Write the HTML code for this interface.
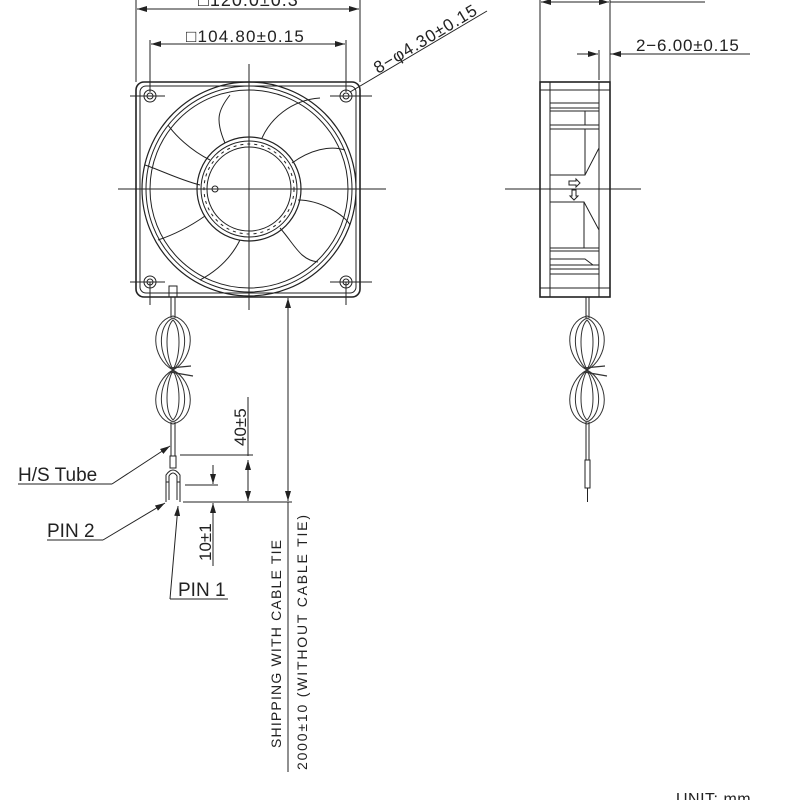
<!DOCTYPE html>
<html><head><meta charset="utf-8"><style>
html,body{margin:0;padding:0;background:#fff;}
svg{display:block}
text{font-family:"Liberation Sans",sans-serif;fill:#222}
</style></head><body>
<svg width="800" height="800" viewBox="0 0 800 800" xmlns="http://www.w3.org/2000/svg">
<defs>
<marker id="a" markerWidth="10" markerHeight="6" refX="10" refY="3" orient="auto-start-reverse" markerUnits="userSpaceOnUse"><path d="M0,0 L10,3 L0,6 z" fill="#222"/></marker>
<g id="loops" fill="none" stroke="#333" stroke-width="1">
<path d="M0,-54 C-24,-48 -22,-12 0,0 C22,-12 24,-48 0,-54 Z"/>
<path d="M0,-52 C-16,-45 -15,-14 0,0 C15,-14 16,-45 0,-52 Z"/>
<path d="M0,-50 C-8,-42 -8,-16 0,0 C8,-16 8,-42 0,-50 Z"/>
<path d="M0,54 C-24,48 -22,12 0,0 C22,12 24,48 0,54 Z"/>
<path d="M0,52 C-16,45 -15,14 0,0 C15,14 16,45 0,52 Z"/>
<path d="M0,50 C-8,42 -8,16 0,0 C8,16 8,42 0,50 Z"/>
<path d="M-3,-2 L18,-4 M-3,2 L20,6" stroke-width="1.2"/>
</g>
</defs>
<g stroke="#222" fill="none" stroke-width="1">
<line x1="136" y1="0" x2="136" y2="82"/><line x1="360" y1="0" x2="360" y2="82"/>
<line x1="137" y1="9" x2="359" y2="9" marker-start="url(#a)" marker-end="url(#a)"/>
<line x1="150" y1="40" x2="150" y2="92"/><line x1="346" y1="40" x2="346" y2="92"/>
<line x1="151" y1="44" x2="345" y2="44" marker-start="url(#a)" marker-end="url(#a)"/>
<line x1="350" y1="92" x2="487" y2="11"/>
<rect x="136" y="82" width="224" height="215" rx="8" stroke-width="1.6"/>
<rect x="140" y="86" width="216" height="207" rx="6"/>
<circle cx="249" cy="189" r="107" stroke-width="1.2"/>
<circle cx="249" cy="189" r="103"/>
<circle cx="249" cy="189" r="99"/>
<circle cx="249" cy="189" r="52" stroke-width="1.2"/>
<circle cx="249" cy="189" r="48"/>
<circle cx="249" cy="189" r="45" stroke-dasharray="3 4"/>
<circle cx="249" cy="189" r="42"/>
<circle cx="215" cy="189" r="3"/>
<circle cx="150" cy="96" r="6"/><circle cx="150" cy="96" r="3"/>
<circle cx="346" cy="96" r="6"/><circle cx="346" cy="96" r="3"/>
<circle cx="150" cy="282" r="6"/><circle cx="150" cy="282" r="3"/>
<circle cx="346" cy="282" r="6"/><circle cx="346" cy="282" r="3"/>
<path d="M225,143 C215,120 218,110 230,95 M262,138 C270,120 290,100 320,98"/>
<path d="M292,163 C310,150 330,145 345,150 M298,200 C320,200 345,215 350,225"/>
<path d="M280,228 C295,245 300,260 318,262 M240,240 C230,260 215,272 200,280"/>
<path d="M205,216 C185,230 170,236 158,240 M200,185 C180,180 160,170 145,165"/>
<path d="M210,160 C190,150 175,135 168,125"/>
<line x1="118" y1="189" x2="386" y2="189"/>
<line x1="249" y1="64" x2="249" y2="310"/>
<line x1="130" y1="96" x2="165" y2="96"/><line x1="330" y1="96" x2="372" y2="96"/>
<line x1="130" y1="282" x2="165" y2="282"/><line x1="330" y1="282" x2="372" y2="282"/>
<line x1="150" y1="282" x2="150" y2="305"/><line x1="346" y1="282" x2="346" y2="305"/>
<rect x="169" y="286" width="8" height="11"/>
<line x1="171" y1="297" x2="171" y2="318"/><line x1="175" y1="297" x2="175" y2="318"/>
<use href="#loops" x="173" y="370"/>
<line x1="171" y1="422" x2="171" y2="456"/><line x1="175" y1="422" x2="175" y2="456"/>
<rect x="170" y="456" width="6" height="12"/>
<path d="M166,502 L166,475 Q173,465 180,475 L180,502"/>
<path d="M169,500 L169,476 Q173,470 177,476 L177,500"/>
<line x1="166" y1="482" x2="169" y2="482"/><line x1="177" y1="482" x2="180" y2="482"/>
<line x1="180" y1="455" x2="253" y2="455"/>
<line x1="183" y1="502" x2="292" y2="502"/>
<line x1="185" y1="485" x2="218" y2="485"/>
<line x1="248" y1="397" x2="248" y2="456" /><line x1="248" y1="460" x2="248" y2="501" marker-start="url(#a)" marker-end="url(#a)"/>
<line x1="213" y1="465" x2="213" y2="484" marker-end="url(#a)"/>
<line x1="213" y1="520" x2="213" y2="503" marker-end="url(#a)"/>
<line x1="213" y1="503" x2="213" y2="566"/>
<line x1="288" y1="298" x2="288" y2="501" marker-start="url(#a)" marker-end="url(#a)"/>
<line x1="288" y1="502" x2="288" y2="772"/>
<line x1="18" y1="484" x2="112" y2="484"/><line x1="112" y1="484" x2="170" y2="446" marker-end="url(#a)"/>
<line x1="47" y1="540" x2="103" y2="540"/><line x1="103" y1="540" x2="165" y2="503" marker-end="url(#a)"/>
<line x1="170" y1="599" x2="228" y2="599"/><line x1="170" y1="599" x2="178" y2="506" marker-end="url(#a)"/>
<line x1="540" y1="0" x2="540" y2="82"/><line x1="610" y1="0" x2="610" y2="82"/>
<line x1="541" y1="2" x2="609" y2="2" marker-start="url(#a)" marker-end="url(#a)"/>
<line x1="610" y1="2" x2="705" y2="2"/>
<line x1="599" y1="50" x2="599" y2="80"/>
<line x1="577" y1="54" x2="598" y2="54" marker-end="url(#a)"/>
<line x1="635" y1="54" x2="611" y2="54" marker-end="url(#a)"/>
<line x1="610" y1="54" x2="750" y2="54"/>
<rect x="540" y="82" width="70" height="215" stroke-width="1.6"/>
<line x1="550" y1="82" x2="550" y2="297"/><line x1="599" y1="82" x2="599" y2="297"/>
<line x1="540" y1="90" x2="610" y2="90"/><line x1="540" y1="288" x2="610" y2="288"/>
<rect x="550" y="103" width="49" height="5"/>
<rect x="550" y="111" width="49" height="14"/><line x1="585" y1="111" x2="585" y2="125"/>
<path d="M550,129 L599,129 L599,148 L585,175 L550,175 Z"/><line x1="585" y1="129" x2="585" y2="175"/>
<path d="M550,202 L584,202 L599,230 L599,248 L550,248 Z"/><line x1="584" y1="202" x2="584" y2="248"/>
<rect x="550" y="251" width="49" height="14"/><path d="M550,259 L585,259 L593,265"/>
<rect x="550" y="269" width="49" height="5"/>
<path d="M569,181 L576,181 L576,179 L580,183 L576,187 L576,185 L569,185 Z"/>
<path d="M572,190 L576,190 L576,196 L578,196 L574,200 L570,196 L572,196 Z"/>
<line x1="505" y1="189" x2="641" y2="189"/>
<line x1="586" y1="297" x2="586" y2="318"/><line x1="589" y1="297" x2="589" y2="318"/>
<use href="#loops" x="587" y="370"/>
<line x1="586" y1="422" x2="586" y2="460"/><line x1="589" y1="422" x2="589" y2="460"/>
<rect x="585" y="460" width="5" height="28"/>
<line x1="587.5" y1="488" x2="587.5" y2="502"/>
</g>
<g>
<text x="198" y="6" font-size="18" letter-spacing="1">□120.0±0.3</text>
<text x="186" y="42" font-size="17" letter-spacing="1.2">□104.80±0.15</text>
<text x="0" y="0" transform="translate(378,74) rotate(-31)" font-size="17" letter-spacing="1">8−φ4.30±0.15</text>
<text x="636" y="51" font-size="17" letter-spacing="0.8">2−6.00±0.15</text>
<text x="18" y="481" font-size="19">H/S Tube</text>
<text x="47" y="537" font-size="19">PIN 2</text>
<text x="178" y="596" font-size="19">PIN 1</text>
<text x="0" y="0" transform="translate(246,446) rotate(-90)" font-size="17">40±5</text>
<text x="0" y="0" transform="translate(211,561) rotate(-90)" font-size="17">10±1</text>
<text x="0" y="0" transform="translate(281,748) rotate(-90)" font-size="14" textLength="208" lengthAdjust="spacing">SHIPPING WITH CABLE TIE</text>
<text x="0" y="0" transform="translate(307,770) rotate(-90)" font-size="14" textLength="255" lengthAdjust="spacing">2000±10 (WITHOUT CABLE TIE)</text>
<text x="676" y="804" font-size="16" letter-spacing="0.5">UNIT: mm</text>
</g>
</svg>
</body></html>
